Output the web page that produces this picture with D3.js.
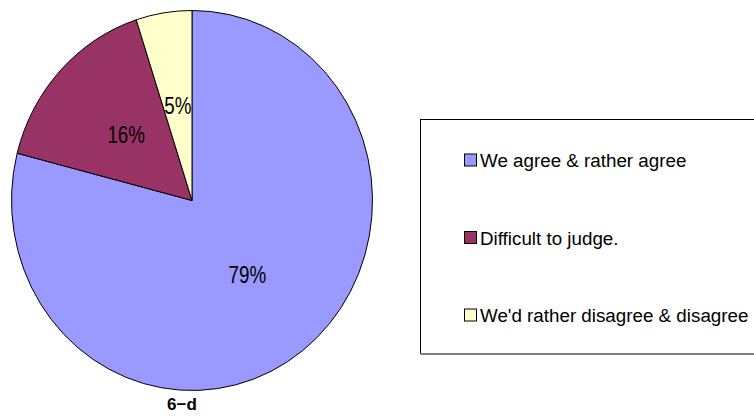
<!DOCTYPE html>
<html>
<head>
<meta charset="utf-8">
<script src="https://cdn.jsdelivr.net/npm/d3@7"></script>
<style>
  html, body { margin: 0; padding: 0; background: #fff; }
  svg { display: block; }
</style>
</head>
<body>
<svg id="chart" width="754" height="417"></svg>
<script>
// Survey answers for question 6-d
const categories = ["We agree & rather agree", "Difficult to judge.", "We'd rather disagree & disagree"];
const values = [79, 16, 5];
const colors = ["#9999FF", "#993366", "#FFFFCC"];
const chartTitle = "6-d";

const svg = d3.select("#chart");

// Pie geometry (slightly taller than wide)
const cx = 192, cy = 200.5, rx = 180.5, ry = 190;

const pie = d3.pie().sort(null).value(d => d.value);
const arcs = pie(categories.map((c, i) => ({ name: c, value: values[i], color: colors[i] })));
const arc = d3.arc().innerRadius(0).outerRadius(rx);

const g = svg.append("g")
  .attr("transform", `translate(${cx},${cy}) scale(1,${ry / rx})`);

g.selectAll("path")
  .data(arcs)
  .join("path")
  .attr("d", arc)
  .attr("fill", d => d.data.color)
  .attr("stroke", "#000")
  .attr("stroke-width", 1)
  .attr("vector-effect", "non-scaling-stroke")
  .attr("stroke-linejoin", "round");

// Percentage labels placed halfway out along each slice's mid-angle,
// drawn in a horizontally condensed face
const labelRadius = 0.5;
svg.append("g")
  .selectAll("text")
  .data(arcs)
  .join("text")
  .attr("transform", d => {
    const a = (d.startAngle + d.endAngle) / 2;
    const x = cx + Math.sin(a) * rx * labelRadius;
    const y = cy - Math.cos(a) * ry * labelRadius;
    return `translate(${x},${y}) scale(0.8,1)`;
  })
  .attr("text-anchor", "middle")
  .attr("dominant-baseline", "central")
  .attr("font-family", "'Liberation Sans', Arial, sans-serif")
  .attr("font-size", 23.5)
  .attr("fill", "#000")
  .text(d => d.data.value + "%");

// Title under the pie
svg.append("text")
  .attr("x", 182)
  .attr("y", 410)
  .attr("text-anchor", "middle")
  .attr("font-family", "'Liberation Sans', Arial, sans-serif")
  .attr("font-weight", "bold")
  .attr("font-size", 17)
  .text(chartTitle.replace("-", "\u2212"));

// Legend box
const lg = svg.append("g");
const boxL = 420.5, boxT = 119.5, boxB = 353.5, boxR = 760;
lg.append("rect")
  .attr("x", boxL).attr("y", boxT)
  .attr("width", boxR - boxL).attr("height", boxB - boxT)
  .attr("fill", "#fff").attr("stroke", "#000").attr("stroke-width", 1);
lg.append("line")
  .attr("x1", boxL).attr("x2", boxR)
  .attr("y1", boxB + 0.5).attr("y2", boxB + 0.5)
  .attr("stroke", "#808080").attr("stroke-width", 2);

const rowY = d3.scalePoint().domain(categories).range([160.5, 315.5]);

const items = lg.selectAll("g.item")
  .data(categories)
  .join("g")
  .attr("class", "item")
  .attr("transform", d => `translate(0,${rowY(d)})`);

items.append("rect")
  .attr("x", 464.5).attr("y", -6.5)
  .attr("width", 12).attr("height", 12)
  .attr("fill", (d, i) => colors[i])
  .attr("stroke", "#000").attr("stroke-width", 1);

items.append("text")
  .attr("x", 480)
  .attr("y", 0)
  .attr("dominant-baseline", "central")
  .attr("font-family", "'Liberation Sans', Arial, sans-serif")
  .attr("font-size", 18.8)
  .attr("fill", "#000")
  .text(d => d);
</script>
</body>
</html>
